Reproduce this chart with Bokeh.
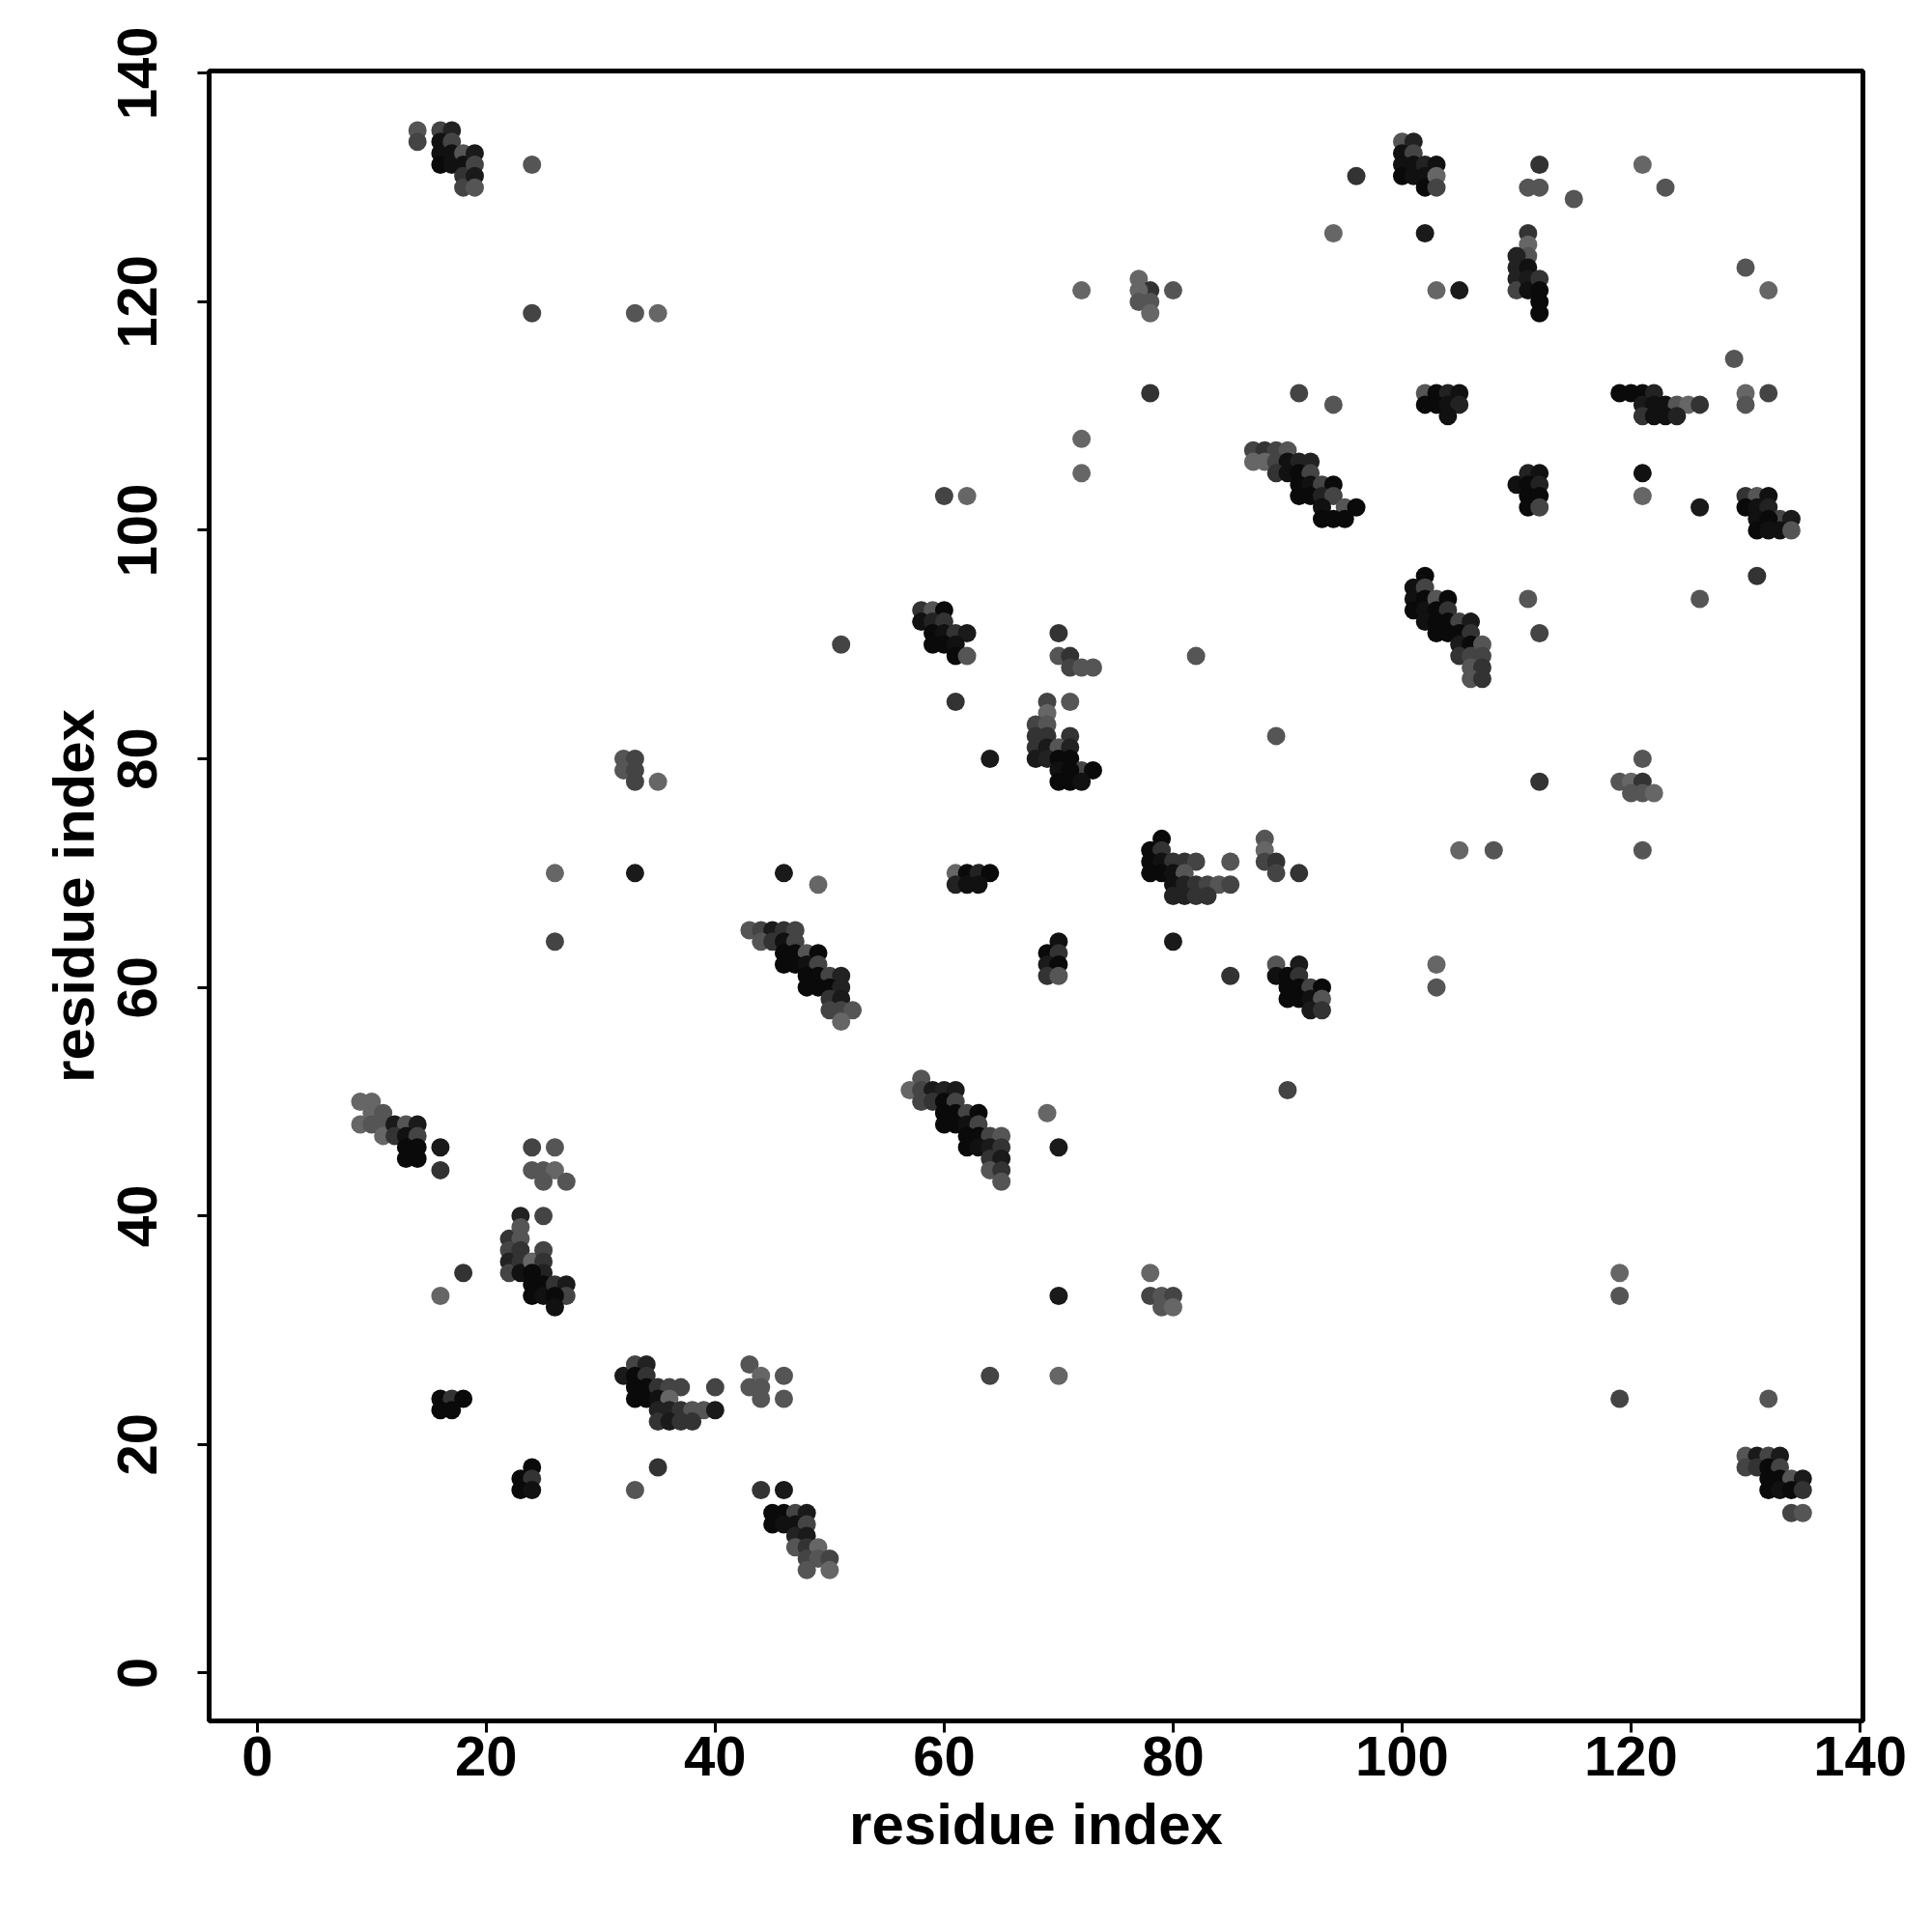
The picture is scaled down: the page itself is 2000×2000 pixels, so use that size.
from bokeh.plotting import figure
from bokeh.models import Range1d, FixedTicker, ColumnDataSource
from bokeh.embed import file_html
from bokeh.resources import INLINE

# contact points: (residue i, residue j, grey level of the dot)
pts = [
(14,135,85),(14,134,68),(16,135,68),(17,135,34),(16,134,17),(16,133,17),(16,132,10),(17,134,68),(17,133,17),(17,132,17),
(18,133,85),(18,132,17),(18,131,51),(18,130,68),(19,133,26),(19,132,68),(19,131,26),(19,130,85),
(24,132,85),(24,119,68),(33,119,85),(35,119,102),(60,103,68),(62,103,102),
(96,131,51),(100,134,85),(101,134,34),(100,133,17),(101,133,68),(100,132,17),(100,131,10),(101,132,17),(101,131,17),
(102,132,34),(102,131,17),(102,130,10),(103,132,17),(103,131,102),(103,130,68),
(94,126,102),(102,126,26),(103,121,102),(72,121,102),(77,122,102),(78,121,51),(77,121,102),(77,120,85),(78,120,85),(78,119,102),(80,121,85),
(78,112,51),(91,112,68),(94,111,85),
(102,112,85),(103,112,10),(104,112,34),(105,112,17),(102,111,10),(103,111,10),(104,111,17),(105,111,34),(104,110,17),
(72,108,102),(72,105,102),
(87,107,68),(88,107,51),(89,107,68),(90,107,85),(87,106,102),(88,106,102),(89,106,68),(90,106,17),(91,106,34),(92,106,34),
(89,105,51),(90,105,17),(91,105,10),(92,105,68),(91,104,10),(92,104,17),(93,104,68),(94,104,10),(91,103,10),(92,103,10),
(93,103,34),(94,103,68),(95,102,85),(96,102,10),(93,102,17),(93,101,10),(94,101,10),(95,101,10),
(102,96,10),(101,95,17),(101,94,17),(101,93,10),(102,95,68),(102,94,10),(102,93,17),(103,94,85),(103,93,10),(104,94,10),
(104,93,51),(102,92,17),(103,92,10),(104,92,10),(105,92,68),(106,92,26),(103,91,10),(104,91,10),(105,91,10),(106,91,51),
(105,90,26),(106,90,10),(107,90,85),(105,89,51),(106,89,68),(107,89,68),(106,88,85),(107,88,51),(106,87,85),(107,87,51),
(112,132,51),(111,130,85),(112,130,85),(115,129,85),(121,132,102),(123,130,85),
(111,126,51),(111,125,102),(111,124,85),(110,124,34),(110,123,34),(110,122,34),(110,121,68),(111,123,17),(111,122,26),(111,121,17),
(112,122,51),(112,121,10),(112,120,10),(112,119,10),
(105,121,26),(130,123,85),(132,121,102),(129,115,85),(130,112,102),(130,111,85),(132,112,68),
(119,112,10),(120,112,10),(121,112,10),(122,112,34),(121,111,26),(122,111,17),(123,111,17),(124,111,85),(125,111,102),(126,111,51),
(121,110,51),(122,110,17),(123,110,17),(124,110,34),
(131,96,51),(111,94,85),(126,94,85),(112,91,68),
(110,104,17),(111,105,34),(112,105,17),(111,104,10),(112,104,34),(111,103,10),(112,103,10),(111,102,10),(112,102,68),
(121,105,17),(121,103,102),(126,102,26),
(130,103,51),(131,103,85),(132,103,17),(130,102,10),(131,102,17),(132,102,34),(133,101,68),(134,101,26),(131,101,17),(132,101,10),
(131,100,10),(132,100,17),(133,100,17),(134,100,85),
(32,80,85),(33,80,68),(32,79,85),(33,79,68),(33,78,68),(35,78,102),
(26,70,102),(33,70,26),(26,64,68),
(9,50,102),(10,50,102),(9,48,102),(10,49,102),(11,49,85),(10,48,85),(11,48,85),(11,47,102),(12,48,26),(13,48,85),(14,48,26),
(12,47,51),(13,47,17),(14,47,68),(13,46,10),(14,46,10),(13,45,10),(14,45,10),(16,46,26),(16,44,51),
(24,46,68),(26,46,85),(24,44,85),(25,44,85),(26,44,102),(25,43,85),(27,43,85),
(23,40,34),(25,40,68),
(22,38,51),(23,39,85),(23,38,85),(22,37,68),(22,36,34),(22,35,68),(23,37,51),(23,36,51),(23,35,17),(24,36,102),(25,37,68),
(25,36,51),(25,35,34),(24,35,10),(24,34,10),(24,33,10),(25,34,10),(25,33,17),(26,34,51),(27,34,26),(27,33,68),(26,33,10),(26,32,17),
(18,35,51),(16,33,102),
(16,24,10),(17,24,51),(18,24,10),(16,23,10),(17,23,10),
(24,18,10),(23,17,10),(24,17,51),(23,16,10),(24,16,17),
(32,26,26),(33,27,68),(34,27,34),(33,26,10),(34,26,51),(33,25,10),(34,25,10),(33,24,10),(34,24,10),(35,25,51),(36,25,68),
(37,25,68),(35,24,17),(36,24,102),(35,23,34),(36,23,34),(37,23,51),(38,23,85),(39,23,85),(40,23,26),(35,22,51),(36,22,26),
(37,22,51),(38,22,51),(40,25,68),
(43,27,85),(44,26,102),(43,25,85),(44,25,85),(44,24,85),(46,26,85),(46,24,85),
(64,26,68),(35,18,51),(33,16,85),(44,16,51),(46,16,26),
(45,14,10),(46,14,10),(47,14,68),(48,14,26),(45,13,10),(46,13,17),(47,13,17),(48,13,68),(47,12,34),(48,12,26),(47,11,85),
(48,11,51),(49,11,102),(48,10,68),(49,10,85),(50,10,68),(48,9,85),(50,9,102),
(78,35,102),(70,33,26),(78,33,68),(79,33,85),(80,33,68),(79,32,85),(80,32,102),(70,26,102),
(119,35,102),(119,33,85),(119,24,68),(132,24,85),
(130,19,85),(131,19,26),(132,19,68),(133,19,26),(130,18,68),(131,18,51),(132,18,10),(133,18,68),(132,17,10),(133,17,10),
(134,17,85),(135,17,26),(132,16,10),(133,16,17),(134,16,10),(135,16,51),(134,14,68),(135,14,85),
(58,93,51),(59,93,85),(60,93,10),(58,92,17),(59,92,34),(60,92,51),(59,91,10),(60,91,17),(61,91,51),(62,91,26),(59,90,10),
(60,90,10),(61,90,17),(61,89,10),(62,89,85),
(51,90,68),(61,85,51),(64,80,26),
(46,70,26),(49,69,102),(61,70,102),(62,70,10),(63,70,34),(64,70,10),(61,69,34),(62,69,17),(63,69,17),
(43,65,85),(44,65,68),(45,65,26),(46,65,51),(47,65,68),(44,64,85),(45,64,51),(46,64,17),(47,64,68),(46,63,10),(47,63,10),
(48,63,85),(49,63,10),(46,62,10),(47,62,10),(48,62,17),(49,62,68),(48,61,10),(49,61,10),(50,61,68),(51,61,34),(48,60,10),
(49,60,10),(50,60,10),(51,60,34),(50,59,51),(51,59,26),(50,58,68),(51,58,68),(52,58,85),(51,57,102),
(58,52,85),(57,51,102),(58,51,68),(59,51,26),(60,51,34),(61,51,26),(58,50,68),(59,50,51),(60,50,10),(61,50,68),(60,49,10),
(61,49,10),(62,49,68),(63,49,10),(60,48,10),(61,48,10),(62,48,17),(63,48,68),(62,47,10),(63,47,10),(64,47,68),(65,47,85),
(62,46,10),(63,46,17),(64,46,26),(65,46,51),(64,45,51),(65,45,26),(64,44,85),(65,44,51),(65,43,85),
(70,91,51),(70,89,85),(71,89,51),(71,88,68),(72,88,85),(73,88,85),(82,89,85),(69,85,68),(71,85,85),(89,82,85),
(69,84,102),(68,83,68),(69,83,85),(68,82,51),(69,82,51),(71,82,51),(68,81,51),(69,81,26),(70,81,85),(71,81,34),(68,80,26),
(69,80,34),(70,80,10),(71,80,10),(72,79,68),(73,79,10),(70,79,17),(71,79,10),(70,78,10),(71,78,10),(72,78,17),
(79,73,10),(78,72,10),(79,72,51),(78,71,10),(79,71,17),(80,71,51),(81,71,51),(82,71,68),(78,70,10),(79,70,10),(80,70,17),
(81,70,85),(80,69,17),(81,69,34),(82,69,51),(83,69,68),(84,69,85),(85,69,68),(80,68,34),(81,68,34),(82,68,51),(83,68,51),(85,71,85),
(88,73,85),(88,72,102),(88,71,68),(89,71,51),(89,70,68),(91,70,51),
(80,64,26),(70,64,17),(69,63,10),(70,63,51),(69,62,26),(70,62,10),(69,61,51),(70,61,85),(85,61,51),
(89,62,85),(91,62,26),(89,61,17),(90,61,10),(91,61,51),(90,60,10),(91,60,10),(92,60,68),(93,60,10),(90,59,10),(91,59,10),
(92,59,17),(93,59,85),(92,58,26),(93,58,51),
(103,62,102),(103,60,85),(90,51,68),(69,49,102),(70,46,26),
(121,80,85),(112,78,51),(119,78,85),(120,78,102),(121,78,51),(120,77,85),(121,77,85),(122,77,102),(105,72,102),(108,72,85),(121,72,85),
]

res_i = [p[0] for p in pts]
res_j = [p[1] for p in pts]
grey = [p[2] for p in pts]
ticks = [0, 20, 40, 60, 80, 100, 120, 140]

colors = ["#%02x%02x%02x" % (g, g, g) for g in grey]
src = ColumnDataSource(dict(x=res_i, y=res_j, c=colors))

FONT = "Liberation Sans"

p = figure(frame_width=1712, frame_height=1708,
           x_range=Range1d(-4.2, 140.25), y_range=Range1d(-4.2, 140.2),
           output_backend="svg", toolbar_location=None,
           min_border_left=216, min_border_top=73, min_border_right=55, min_border_bottom=150)

p.scatter("x", "y", source=src, size=19, fill_color="c", line_color=None)

p.xgrid.visible = False
p.ygrid.visible = False
p.outline_line_color = "black"
p.outline_line_width = 5
p.background_fill_color = "white"
p.border_fill_color = "white"

for ax in (p.xaxis[0], p.yaxis[0]):
    ax.ticker = FixedTicker(ticks=ticks)
    ax.axis_line_color = None
    ax.major_tick_line_color = "black"
    ax.major_tick_line_width = 3
    ax.major_tick_out = 12
    ax.major_tick_in = 0
    ax.minor_tick_line_color = None
    ax.major_label_text_font = FONT
    ax.major_label_text_font_style = "bold"
    ax.major_label_text_font_size = "58px"
    ax.major_label_text_color = "black"
    ax.axis_label = "residue index"
    ax.axis_label_text_font = FONT
    ax.axis_label_text_font_style = "bold"
    ax.axis_label_text_font_size = "60px"
    ax.axis_label_text_color = "black"

p.xaxis[0].major_label_standoff = 4
p.xaxis[0].axis_label_standoff = 14
p.yaxis[0].major_label_orientation = "vertical"
p.yaxis[0].major_label_standoff = 42
p.yaxis[0].axis_label_standoff = 10

open("out.html", "w").write(file_html(p, INLINE))
